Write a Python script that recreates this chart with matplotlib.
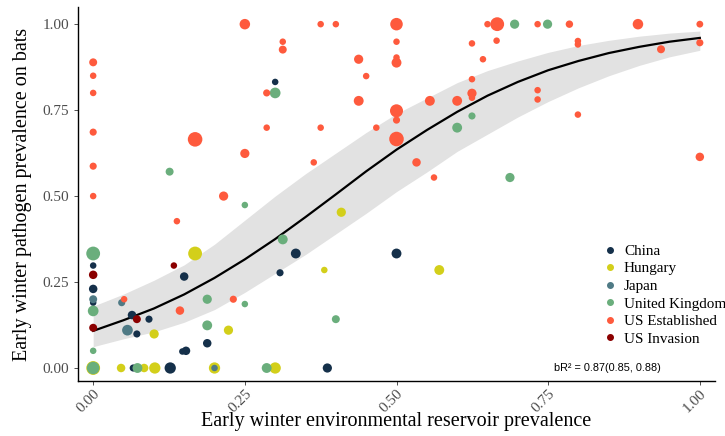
import matplotlib
matplotlib.use("Agg")
import matplotlib.pyplot as plt
from matplotlib.lines import Line2D

plt.rcParams["font.family"] = ["Liberation Serif", "DejaVu Serif"]

# fitted curve and 95% band
fit_x = [0.0, 0.05, 0.1, 0.15, 0.2, 0.25, 0.3, 0.35, 0.4, 0.45, 0.5,
         0.55, 0.6, 0.65, 0.7, 0.75, 0.8, 0.85, 0.9, 0.95, 1.0]
fit_y = [0.108, 0.139, 0.173, 0.214, 0.262, 0.316, 0.375, 0.439, 0.505, 0.572, 0.635,
         0.692, 0.745, 0.792, 0.832, 0.866, 0.893, 0.916, 0.934, 0.949, 0.960]
band_lo = [0.062, 0.085, 0.105, 0.133, 0.17, 0.22, 0.275, 0.33, 0.39, 0.45, 0.513,
           0.57, 0.63, 0.68, 0.73, 0.775, 0.815, 0.85, 0.88, 0.905, 0.924]
band_hi = [0.18, 0.215, 0.255, 0.30, 0.36, 0.43, 0.50, 0.565, 0.625, 0.685, 0.74,
           0.785, 0.83, 0.865, 0.893, 0.918, 0.938, 0.953, 0.965, 0.974, 0.98]

countries = ["China", "Hungary", "Japan", "United Kingdom", "US Established", "US Invasion"]
colors = ["#15304a", "#d3cf1a", "#4f7a85", "#6aae7c", "#fe5a3d", "#8b0000"]

# (reservoir prevalence, bat prevalence, relative sample weight)
china_x = [0.0, 0.0, 0.0, 0.150, 0.064, 0.092, 0.072, 0.188, 0.153, 0.147, 0.066, 0.127, 0.386,
           0.30, 0.334, 0.308, 0.50]
china_y = [0.298, 0.23, 0.19, 0.266, 0.154, 0.142, 0.099, 0.072, 0.050, 0.048, 0.0, 0.0, 0.0,
           0.832, 0.333, 0.277, 0.333]
china_n = [1, 1.7, 1, 1.7, 1.7, 1.2, 1.2, 1.7, 1.7, 1, 1.2, 3, 2, 1, 2.3, 1.2, 2.3]

hungary_x = [0.168, 0.1005, 0.223, 0.0, 0.046, 0.084, 0.1016, 0.2, 0.30, 0.409, 0.381, 0.5705]
hungary_y = [0.333, 0.099, 0.110, 0.0, 0.0, 0.0, 0.0, 0.0, 0.0, 0.453, 0.285, 0.285]
hungary_n = [4.5, 2, 2, 4.5, 1.7, 1.7, 3, 3, 3, 2, 1, 2.3]

japan_x = [0.0, 0.047, 0.0565, 0.2]
japan_y = [0.2, 0.19, 0.110, 0.0]
japan_n = [1.5, 1.2, 2.7, 1]

uk_x = [0.0, 0.0, 0.0, 0.126, 0.25, 0.188, 0.25, 0.188, 0.0, 0.073, 0.286, 0.3125, 0.40,
        0.30, 0.6244, 0.60, 0.6947, 0.749, 0.687]
uk_y = [0.333, 0.166, 0.05, 0.571, 0.474, 0.2, 0.186, 0.124, 0.0, 0.0, 0.0, 0.374, 0.142,
        0.80, 0.733, 0.699, 1.0, 1.0, 0.554]
uk_n = [4.5, 2.7, 1, 1.5, 1, 2, 1, 2.3, 3.7, 2.3, 2.3, 2.3, 1.5, 2.7, 1.2, 2.3, 2, 2, 2]

us_est_x = [0.0, 0.0, 0.0, 0.0, 0.0, 0.0, 0.25, 0.168, 0.25, 0.215, 0.138, 0.051, 0.143, 0.231,
            0.375, 0.40, 0.50, 0.65, 0.666, 0.3125, 0.3125, 0.50, 0.4376, 0.50, 0.50, 0.6244,
            0.665, 0.6425, 0.286, 0.45, 0.4377, 0.375, 0.286, 0.50, 0.50, 0.50, 0.4667, 0.555,
            0.60, 0.6244, 0.6244, 0.6244, 0.533, 0.5618, 0.3636, 0.7326, 0.785, 0.898, 1.0,
            0.799, 0.799, 0.936, 1.0, 0.7326, 0.7326, 0.799, 1.0]
us_est_y = [0.889, 0.85, 0.80, 0.686, 0.587, 0.50, 1.0, 0.665, 0.624, 0.50, 0.427, 0.2, 0.167,
            0.2, 1.0, 1.0, 1.0, 1.0, 1.0, 0.949, 0.926, 0.949, 0.898, 0.888, 0.903, 0.944,
            0.952, 0.898, 0.80, 0.849, 0.777, 0.699, 0.699, 0.748, 0.721, 0.666, 0.699, 0.777,
            0.777, 0.840, 0.799, 0.786, 0.598, 0.554, 0.598, 1.0, 1.0, 1.0, 1.0,
            0.951, 0.941, 0.927, 0.946, 0.808, 0.781, 0.737, 0.614]
us_est_n = [1.5, 1, 1, 1.2, 1.2, 1, 2.6, 5, 2, 2, 1, 1, 1.7, 1.2,
            1, 1, 3.7, 1, 4.5, 1, 1.5, 1, 2, 2.3, 1, 1,
            1, 1, 1.2, 1, 2.3, 1, 1, 4, 1.2, 5, 1, 2.3,
            2.3, 1, 2, 1, 1.7, 1, 1, 1, 1.3, 2.6, 1.1,
            1, 1, 1.5, 1.2, 1, 1, 1, 1.7]

us_inv_x = [0.133, 0.0, 0.072, 0.0]
us_inv_y = [0.298, 0.271, 0.142, 0.117]
us_inv_n = [1, 1.7, 1.5, 1.5]

groups = [(china_x, china_y, china_n), (hungary_x, hungary_y, hungary_n),
          (japan_x, japan_y, japan_n), (uk_x, uk_y, uk_n),
          (us_est_x, us_est_y, us_est_n), (us_inv_x, us_inv_y, us_inv_n)]

fig = plt.figure(figsize=(7.25, 4.36), dpi=100)
ax = fig.add_axes([0.1076, 0.126, 0.8786, 0.858])

ax.fill_between(fit_x, band_lo, band_hi, color="#e2e2e2", lw=0, zorder=1)
ax.plot(fit_x, fit_y, color="black", lw=1.6, zorder=2)

for (gx, gy, gn), col in zip(groups, colors):
    ax.scatter(gx, gy, s=[22 * n for n in gn], color=col, edgecolors="none", zorder=3)

ax.set_xlim(-0.025, 1.025)
ax.set_ylim(-0.038, 1.05)
ax.set_xticks([0, 0.25, 0.5, 0.75, 1.0])
ax.set_xticklabels(["0.00", "0.25", "0.50", "0.75", "1.00"], rotation=45, ha="right",
                   rotation_mode="anchor")
ax.set_yticks([0, 0.25, 0.5, 0.75, 1.0])
ax.set_yticklabels(["0.00", "0.25", "0.50", "0.75", "1.00"])
ax.tick_params(axis="both", colors="#333333", labelcolor="#4d4d4d", labelsize=11, length=3, width=0.6)
ax.tick_params(axis="x", pad=1)
for side in ("top", "right"):
    ax.spines[side].set_visible(False)
for side in ("left", "bottom"):
    ax.spines[side].set_linewidth(1.0)

ax.set_xlabel("Early winter environmental reservoir prevalence", fontsize=14.5)
ax.xaxis.set_label_coords(0.5, -0.083)
ax.set_ylabel("Early winter pathogen prevalence on bats", fontsize=14.5)
ax.yaxis.set_label_coords(-0.072, 0.5)

ax.text(0.847, 0.0, "bR² = 0.87(0.85, 0.88)", family="Liberation Sans", fontsize=7.8,
        ha="center", va="center")

handles = [Line2D([], [], marker="o", ls="", color=c, markersize=4) for c in colors]
fig.legend(handles, countries, loc="upper left", bbox_to_anchor=(0.822, 0.457),
           frameon=False, fontsize=10.9, handlelength=0.8, handletextpad=0.55,
           labelspacing=0.26, borderpad=0)

fig.savefig("out.png", dpi=100)
